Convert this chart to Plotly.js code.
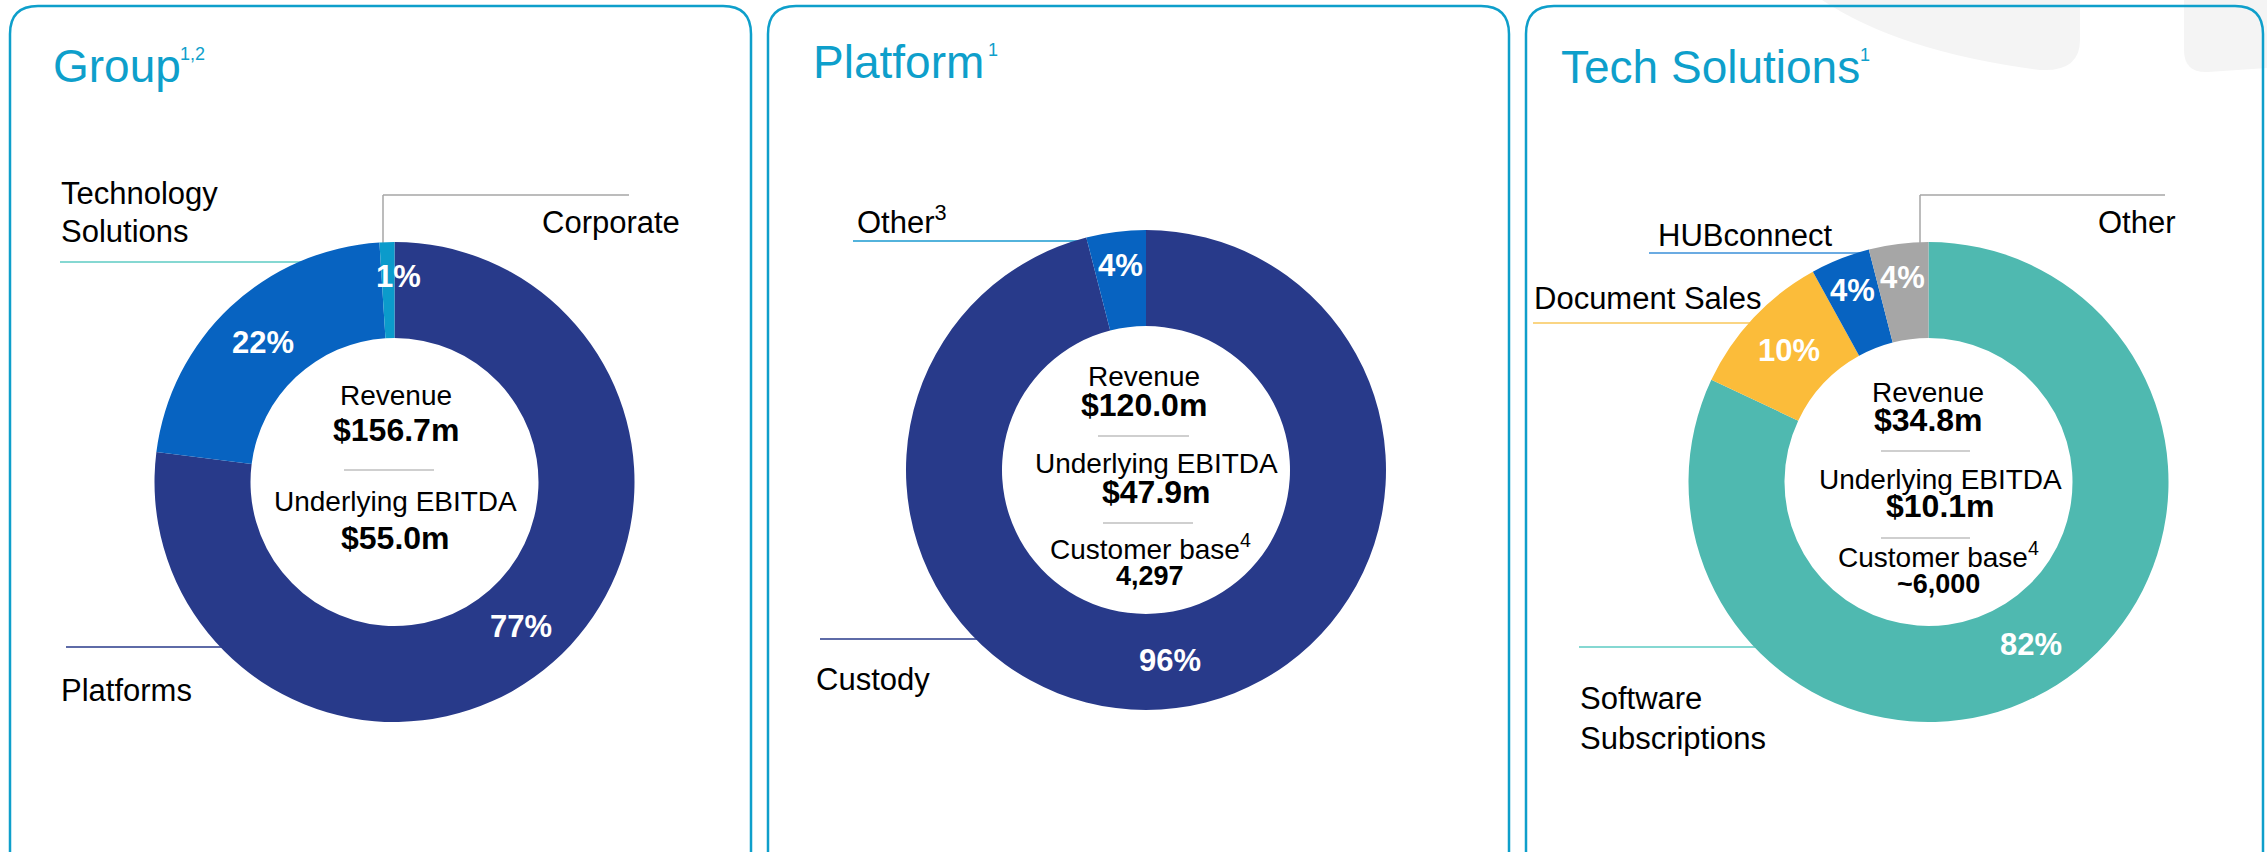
<!DOCTYPE html>
<html>
<head>
<meta charset="utf-8">
<script src="https://cdn.plot.ly/plotly-3.0.1.min.js"></script>
<style>
html,body{margin:0;padding:0;background:#fff;}
#chart{width:2267px;height:852px;}
</style>
</head>
<body>
<div id="chart"></div>
<script>
// ---------------- DATA ----------------
const groupLabels = ['Platforms', 'Technology Solutions', 'Corporate'];
const groupValues = [77, 22, 1];
const groupMetricNames = ['Revenue', 'Underlying EBITDA'];
const groupMetricValues = ['$156.7m', '$55.0m'];

const platformLabels = ['Custody', 'Other'];
const platformValues = [96, 4];
const platformMetricNames = ['Revenue', 'Underlying EBITDA', 'Customer base<sup>4</sup>'];
const platformMetricValues = ['$120.0m', '$47.9m', '4,297'];

const techLabels = ['Software Subscriptions', 'Document Sales', 'HUBconnect', 'Other'];
const techValues = [82, 10, 4, 4];
const techMetricNames = ['Revenue', 'Underlying EBITDA', 'Customer base<sup>4</sup>'];
const techMetricValues = ['$34.8m', '$10.1m', '~6,000'];

const panelTitles = ['Group', 'Platform', 'Tech Solutions'];
const panelTitleNotes = ['1,2', '1', '1'];

// ---------------- STYLE ----------------
const W = 2267, H = 852;
const FONT = 'Arial, "Liberation Sans", sans-serif';
const NAVY = '#283A8A', BLUE = '#0763C1', CYAN = '#0B9BCB', TEAL = '#4FB9B0',
      YELLOW = '#FBBC3A', GREY = '#A6A6A6', TITLE = '#0E9FCB';
const R = 240, HOLE = 0.6;

function pieDomain(cx, cy) {
  return {x: [(cx - R) / W, (cx + R) / W], y: [1 - (cy + R) / H, 1 - (cy - R) / H]};
}

function pieTrace(labels, values, colors, cx, cy) {
  return {
    type: 'pie', labels: labels, values: values, sort: false, direction: 'clockwise',
    rotation: 0, hole: HOLE, domain: pieDomain(cx, cy),
    marker: {colors: colors, line: {width: 0}},
    textinfo: 'none',
    hoverinfo: 'skip', showlegend: false
  };
}

const pies = [
  {labels: groupLabels, values: groupValues, colors: [NAVY, BLUE, CYAN], cx: 394.5, cy: 482},
  {labels: platformLabels, values: platformValues, colors: [NAVY, BLUE], cx: 1146, cy: 470},
  {labels: techLabels, values: techValues, colors: [TEAL, YELLOW, BLUE, GREY], cx: 1928.5, cy: 482}
];

const traces = [{type: 'scatter', x: [], y: [], hoverinfo: 'skip', showlegend: false}]
  .concat(pies.map(p => pieTrace(p.labels, p.values, p.colors, p.cx, p.cy)));

// annotation helper: x in px, baseline in px
function txt(text, x, baseline, size, opts) {
  opts = opts || {};
  return Object.assign({
    xref: 'x', yref: 'y', x: x, y: baseline - 0.347 * size,
    text: text, showarrow: false, xanchor: 'left', yanchor: 'middle',
    borderpad: 0,
    font: {family: FONT, size: size, color: opts.color || '#000000'}
  }, opts.extra || {});
}

const annotations = [];

// Percentage labels on the rings, placed from each slice's share of its pie
pies.forEach(p => {
  const total = p.values.reduce((a, b) => a + b, 0);
  let cum = 0;
  p.values.forEach(v => {
    const share = v / total;
    const theta = 2 * Math.PI * (cum + v / 2) / total;
    cum += v;
    const rr = share < 0.06 ? 206 : R * (1 + HOLE) / 2;
    // very thin slices: label is nudged clockwise so it sits across the slice edge
    const dx = share < 0.02 ? 10 : 0;
    annotations.push({
      xref: 'x', yref: 'y', x: p.cx + rr * Math.sin(theta) + dx, y: p.cy - rr * Math.cos(theta),
      text: '<b>' + v + '%</b>', showarrow: false, xanchor: 'center', yanchor: 'middle',
      borderpad: 0, font: {family: FONT, size: 31, color: '#ffffff'}
    });
  });
});

// Titles
const titlePos = [[52, 82], [812, 78], [1560, 83]];
const notePos = [[179, 60], [987, 56], [1859, 61]];
panelTitles.forEach((t, i) => {
  annotations.push(txt(t, titlePos[i][0], titlePos[i][1], 46, {color: TITLE}));
  annotations.push(txt(panelTitleNotes[i], notePos[i][0], notePos[i][1], 18, {color: TITLE}));
});

// Category labels
const L = 31;
annotations.push(txt('Technology', 60, 204, L));
annotations.push(txt('Solutions', 60, 242, L));
annotations.push(txt(groupLabels[2], 541, 233, L));
annotations.push(txt(groupLabels[0], 60, 701, L));

annotations.push(txt(platformLabels[1] + '<sup>3</sup>', 856, 231, L));
annotations.push(txt(platformLabels[0], 815, 690, L));

annotations.push(txt(techLabels[3], 2097, 233, L));
annotations.push(txt(techLabels[2], 1657, 246, L));
annotations.push(txt(techLabels[1], 1533, 309, L));
annotations.push(txt('Software', 1579, 709, L));
annotations.push(txt('Subscriptions', 1579, 749, L));

// Centre metrics
function centre(names, vals, xs, nameBase, valBase, valSizes) {
  names.forEach((n, i) => {
    annotations.push(txt(n, xs[i], nameBase[i], 28, {extra: {xanchor: 'center'}}));
    annotations.push(txt('<b>' + vals[i] + '</b>', xs[i], valBase[i], valSizes[i], {extra: {xanchor: 'center'}}));
  });
}
centre(groupMetricNames, groupMetricValues, [396, 395], [405, 511], [441, 549], [32, 32]);
centre(platformMetricNames, platformMetricValues, [1144, 1156, 1150], [386, 473, 557], [416, 503, 585], [32, 32, 27]);
centre(techMetricNames, techMetricValues, [1928, 1940, 1938], [402, 489, 565], [431, 517, 593], [32, 32, 27]);

// ---------------- SHAPES ----------------
const shapes = [];
function line(x0, y0, x1, y1, color, w) {
  shapes.push({type: 'line', xref: 'x', yref: 'y', x0: x0, y0: y0, x1: x1, y1: y1,
               line: {color: color, width: w || 1.5}, layer: 'below'});
}
function path(d, fill, lineColor, lw) {
  shapes.push({type: 'path', xref: 'x', yref: 'y', path: d, fillcolor: fill,
               line: {color: lineColor || 'rgba(0,0,0,0)', width: lw || 0}, layer: 'below'});
}
// background decoration (top right)
path('M 1822 0 Q 1900 52 2040 70 Q 2080 72 2080 40 L 2080 0 Z', '#F4F4F4');
path('M 2184 0 L 2184 50 Q 2184 73 2208 72 L 2267 68 L 2267 0 Z', '#F4F4F4');

// panel borders (rounded, running off the bottom)
function panel(x0, x1) {
  const y0 = 6, r = 28, yb = 900;
  path(`M ${x0} ${yb} L ${x0} ${y0 + r} Q ${x0} ${y0} ${x0 + r} ${y0} L ${x1 - r} ${y0} Q ${x1} ${y0} ${x1} ${y0 + r} L ${x1} ${yb}`,
       'rgba(0,0,0,0)', TITLE, 2.5);
}
panel(10, 751);
panel(768, 1509);
panel(1526, 2263);

// leader lines
line(60, 262, 310, 262, '#5CCBC3');
line(383, 250, 383, 195, '#A6A6A6');
line(383, 195, 629, 195, '#A6A6A6');
line(66, 647, 232, 647, NAVY);

line(853, 241, 1090, 241, '#1A9AD0');
line(820, 639, 985, 639, NAVY);

line(1920, 250, 1920, 195, '#A6A6A6');
line(1920, 195, 2165, 195, '#A6A6A6');
line(1649, 253, 1860, 253, '#3A8FD8');
line(1533, 323, 1760, 323, '#F8C75A');
line(1579, 647, 1770, 647, '#5CCBC3');

// separators in donut centres
const SEP = '#BFBFBF';
line(344, 470, 434, 470, SEP, 1.3);
line(1098, 436, 1189, 436, SEP, 1.3);
line(1103, 523, 1193, 523, SEP, 1.3);
line(1881, 451, 1970, 451, SEP, 1.3);
line(1881, 538, 1970, 538, SEP, 1.3);

const layout = {
  width: W, height: H,
  margin: {l: 0, r: 0, t: 0, b: 0, pad: 0},
  paper_bgcolor: '#ffffff', plot_bgcolor: 'rgba(0,0,0,0)',
  xaxis: {range: [0, W], visible: false, fixedrange: true, domain: [0, 1]},
  yaxis: {range: [H, 0], visible: false, fixedrange: true, domain: [0, 1]},
  showlegend: false,
  annotations: annotations,
  shapes: shapes,
  font: {family: FONT}
};

Plotly.newPlot('chart', traces, layout, {staticPlot: true, displayModeBar: false});
</script>
</body>
</html>
